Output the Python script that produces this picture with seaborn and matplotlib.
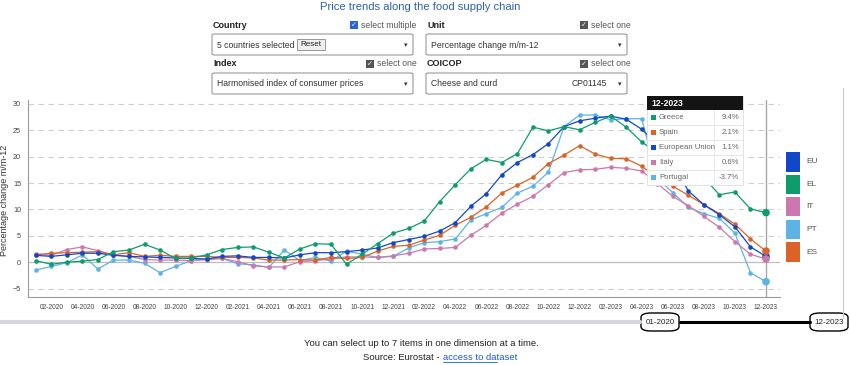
import numpy as np
import pandas as pd
import matplotlib
matplotlib.use('Agg')
import matplotlib.pyplot as plt
import seaborn as sns
from matplotlib.patches import Rectangle, FancyBboxPatch

# ---- data (percentage change m/m-12, cheese and curd, 01-2020 .. 12-2023)
months = pd.date_range('2020-01-01', periods=48, freq='MS').strftime('%m-%Y').tolist()

eu = [1.3, 1.1, 1.4, 1.7, 1.7, 1.3, 1.1, 1.0, 0.9, 0.8, 0.7, 0.6,
      1.1, 1.2, 0.9, 0.9, 0.8, 1.4, 1.8, 1.8, 2.0, 2.3, 2.7, 3.7,
      4.3, 4.9, 5.9, 7.5, 10.6, 13.0, 16.6, 18.9, 20.4, 22.5, 25.7, 26.8,
      27.3, 27.7, 27.1, 25.2, 22.4, 18.8, 13.5, 10.9, 9.0, 6.7, 2.9, 1.1]
el = [0.3, -0.4, 0.0, 0.2, 0.5, 2.0, 2.3, 3.4, 2.3, 0.7, 0.8, 1.4,
      2.4, 2.8, 2.9, 1.9, 0.8, 2.5, 3.5, 3.4, -0.4, 1.5, 3.5, 5.5,
      6.4, 7.8, 11.5, 14.7, 17.7, 19.5, 18.9, 20.6, 25.6, 24.9, 25.7, 25.1,
      26.5, 27.7, 25.6, 22.8, 20.7, 19.0, 17.5, 16.0, 12.8, 13.3, 10.1, 9.4]
it = [1.6, 1.3, 2.4, 2.9, 2.2, 1.4, 1.1, 0.5, 0.4, 0.4, 0.3, 0.5,
      0.7, 0.1, -0.7, -0.9, -0.9, 0.1, 0.3, 0.6, 1.0, 1.0, 0.9, 1.2,
      1.7, 2.5, 2.6, 2.8, 5.1, 7.0, 9.3, 11.0, 12.5, 14.7, 17.0, 17.5,
      17.6, 18.0, 17.8, 17.3, 14.9, 12.5, 10.7, 8.7, 6.6, 3.9, 1.5, 0.6]
pt = [-1.5, -0.8, -0.1, 1.4, -1.3, 0.4, 0.4, -0.2, -2.0, -0.8, 0.3, 0.6,
      0.7, -0.3, -0.5, -1.0, 2.3, 0.3, 0.9, 0.2, 2.1, 1.5, 0.9, 1.1,
      2.7, 3.7, 3.9, 4.4, 8.0, 9.2, 10.4, 13.1, 14.4, 17.1, 25.7, 27.9,
      27.9, 27.0, 27.2, 27.2, 15.9, 13.2, 10.4, 9.2, 8.3, 5.5, -2.0, -3.7]
es = [1.4, 1.7, 1.8, 1.9, 2.0, 1.4, 1.8, 1.1, 1.3, 1.1, 1.1, 1.1,
      0.9, 0.9, 0.8, 0.4, 0.4, 0.5, 0.4, 0.9, 0.7, 0.9, 2.1, 3.0,
      3.2, 4.2, 5.1, 7.0, 8.5, 10.5, 13.1, 14.6, 16.1, 18.7, 20.3, 22.1,
      20.5, 19.7, 19.6, 18.2, 16.0, 14.4, 12.7, 10.9, 9.2, 7.2, 4.4, 2.1]

geo_codes = ['EU', 'EL', 'IT', 'PT', 'ES']
geo_names = ['European Union', 'Greece', 'Italy', 'Portugal', 'Spain']
geo_colors = ['#1148c9', '#0d9c6c', '#cc78ae', '#5cb3e4', '#dc6327']

series = dict(zip(geo_codes, [eu, el, it, pt, es]))
palette = dict(zip(geo_codes, geo_colors))

df = pd.concat([pd.DataFrame({'idx': range(len(months)), 'month': months,
                              'geo': g, 'value': v}) for g, v in series.items()])

W, H = 850, 365
sns.set_style('white')
plt.rcParams['font.family'] = ['Liberation Sans', 'DejaVu Sans']

fig = plt.figure(figsize=(W / 100, H / 100), dpi=100)


def fx(px):
    return px / W


def fy(py):
    return 1 - py / H


# ---- header and selectors
fig.text(fx(420), fy(7), 'Price trends along the food supply chain', ha='center', va='center',
         fontsize=8.1, color='#2f62a5')


def selector(x0, y_lab, label, check_text, check_blue, box_text, right_text=None):
    fig.text(fx(x0 + 1), fy(y_lab), label, fontsize=6.5, fontweight='bold', va='center', color='#222')
    cx = x0 + 201 - 47 if check_text == 'select one' else x0 + 201 - 63
    fig.patches.append(Rectangle((fx(cx), fy(y_lab + 4)), 8 / W, 8 / H, transform=fig.transFigure,
                                 facecolor='#2b63d6' if check_blue else '#555', edgecolor='none'))
    fig.text(fx(cx + 1.3), fy(y_lab + 0.3), '✓', fontsize=5, color='white', va='center',
             family=['DejaVu Sans'])
    fig.text(fx(cx + 11), fy(y_lab), check_text, fontsize=6.2, va='center', color='#555')
    y_box = y_lab + 9
    fig.patches.append(FancyBboxPatch((fx(x0), fy(y_box + 21)), 201 / W, 21 / H,
                                      boxstyle='round,pad=0,rounding_size=0.003',
                                      transform=fig.transFigure, facecolor='white',
                                      edgecolor='#8a8a8a', linewidth=0.7))
    fig.text(fx(x0 + 5), fy(y_box + 11), box_text, fontsize=6.2, va='center', color='#333')
    if right_text:
        fig.text(fx(x0 + 181), fy(y_box + 11), right_text, fontsize=6.2, va='center',
                 ha='right', color='#333')
    fig.text(fx(x0 + 194), fy(y_box + 11), '▾', fontsize=5, va='center', ha='center', color='#333',
             family=['DejaVu Sans'])


selector(212, 25, 'Country', 'select multiple', True, '5 countries selected')
selector(212, 64, 'Index', 'select one', False, 'Harmonised index of consumer prices')
selector(426, 25, 'Unit', 'select one', False, 'Percentage change m/m-12')
selector(426, 64, 'COICOP', 'select one', False, 'Cheese and curd', 'CP01145')
# reset button
fig.patches.append(Rectangle((fx(297), fy(50)), 28 / W, 11 / H, transform=fig.transFigure,
                             facecolor='#efefef', edgecolor='#888', linewidth=0.6))
fig.text(fx(311), fy(44.5), 'Reset', fontsize=5.8, ha='center', va='center', color='#222')

# ---- main chart
ax = fig.add_axes([fx(28), fy(297), (780 - 28) / W, (297 - 100) / H])
sns.lineplot(data=df, x='idx', y='value', hue='geo', hue_order=['PT', 'IT', 'ES', 'EU', 'EL'],
             palette=palette, marker='o', markersize=3.3, markeredgewidth=0,
             linewidth=0.9, legend=False, ax=ax)
last = df[df['idx'] == len(months) - 1]
sns.scatterplot(data=last, x='idx', y='value', hue='geo', palette=palette, s=30,
                edgecolor='none', legend=False, ax=ax, zorder=5)

ax.set_xlim(-0.5, 47.9)
ax.set_ylim(-6.6, 30.75)
for yv in [-5, 5, 10, 15, 20, 25, 30]:
    ax.axhline(yv, color='#cfcfcf', linewidth=0.8, linestyle=(0, (5, 4)), zorder=0)
ax.axhline(0, color='#bdbdbd', linewidth=0.9, zorder=0)
ax.axvline(len(months) - 1, color='#a8a8a8', linewidth=1, zorder=1)

ax.set_yticks([-5, 0, 5, 10, 15, 20, 25, 30])
ax.set_xticks(range(len(months)))
ax.set_xticklabels([m if i % 2 == 1 else '' for i, m in enumerate(months)])
ax.tick_params(axis='x', labelsize=4.8, colors='#555', length=3, width=0.6, pad=2, labelcolor='#444')
ax.tick_params(axis='y', labelsize=5.2, colors='#555', length=3, width=0.6, pad=2, labelcolor='#444')
ax.set_xlabel('')
ax.set_ylabel('Percentage change m/m-12', fontsize=6.5, color='#333')
ax.yaxis.set_label_coords((9 - 28) / 752, 0.49)
for s in ['top', 'right']:
    ax.spines[s].set_visible(False)
for s in ['left', 'bottom']:
    ax.spines[s].set_color('#9a9a9a')
    ax.spines[s].set_linewidth(0.8)

# ---- tooltip for the last month
order = sorted(range(len(geo_codes)), key=lambda i: -series[geo_codes[i]][-1])
tx0, ty0, tw = 647, 96, 96
fig.patches.append(Rectangle((fx(tx0), fy(ty0 + 89)), tw / W, 89 / H, transform=fig.transFigure,
                             facecolor='white', edgecolor='#dddddd', linewidth=0.6, zorder=10))
fig.patches.append(Rectangle((fx(tx0), fy(ty0 + 14)), tw / W, 14 / H, transform=fig.transFigure,
                             facecolor='#141414', edgecolor='none', zorder=11))
fig.text(fx(tx0 + 4), fy(ty0 + 7), months[-1], fontsize=6.2, fontweight='bold', color='white',
         va='center', zorder=12)
for r, i in enumerate(order):
    yc = ty0 + 21.5 + r * 15
    fig.patches.append(Rectangle((fx(tx0 + 4), fy(yc + 2.5)), 5 / W, 5 / H, transform=fig.transFigure,
                                 facecolor=geo_colors[i], edgecolor='none', zorder=12))
    fig.text(fx(tx0 + 12), fy(yc), geo_names[i], fontsize=5.6, color='#666', va='center', zorder=12)
    fig.text(fx(tx0 + tw - 4), fy(yc), f"{series[geo_codes[i]][-1]:.1f}%", fontsize=5.6,
             color='#666', va='center', ha='right', zorder=12)
    if r > 0:
        fig.lines.append(plt.Line2D([fx(tx0), fx(tx0 + tw)], [fy(yc - 7.5), fy(yc - 7.5)],
                                    transform=fig.transFigure, color='#e2e2e2', linewidth=0.6, zorder=12))
fig.lines.append(plt.Line2D([fx(tx0 + 67), fx(tx0 + 67)], [fy(ty0 + 14), fy(ty0 + 89)],
                            transform=fig.transFigure, color='#e2e2e2', linewidth=0.6, zorder=12))

# ---- colour legend on the right
for k, g in enumerate(geo_codes):
    y_top = 152 + k * 22.5
    fig.patches.append(Rectangle((fx(786), fy(y_top + 19.5)), 14 / W, 19.5 / H,
                                 transform=fig.transFigure, facecolor=palette[g], edgecolor='none'))
    fig.text(fx(806), fy(y_top + 10), g, fontsize=6, color='#555', va='center')

# container border on the right
fig.lines.append(plt.Line2D([fx(843), fx(843)], [fy(88), fy(318)], transform=fig.transFigure,
                            color='#cccccc', linewidth=0.8))

# ---- time slider
fig.lines.append(plt.Line2D([0, fx(640)], [fy(322), fy(322)], transform=fig.transFigure,
                            color='#d6d6de', linewidth=3))
fig.lines.append(plt.Line2D([fx(680), fx(810)], [fy(322), fy(322)], transform=fig.transFigure,
                            color='black', linewidth=2.2))
for xc, lab in [(660, months[0]), (829, months[-1])]:
    fig.patches.append(FancyBboxPatch((fx(xc - 19), fy(331)), 38 / W, 18 / H,
                                      boxstyle='round,pad=0,rounding_size=0.012',
                                      transform=fig.transFigure, facecolor='white',
                                      edgecolor='black', linewidth=1.0))
    fig.text(fx(xc), fy(322), lab, fontsize=5.8, ha='center', va='center', color='#222')

# ---- footer
fig.text(fx(421), fy(343), 'You can select up to 7 items in one dimension at a time.',
         fontsize=6.8, ha='center', va='center', color='#222')
fig.text(fx(443), fy(358), 'access to dataset', fontsize=6.8, ha='left', va='center',
         color='#1a5ad8')
fig.text(fx(442), fy(358), 'Source: Eurostat - ', fontsize=6.8, ha='right', va='center', color='#222')
fig.lines.append(plt.Line2D([fx(443), fx(497)], [fy(362), fy(362)], transform=fig.transFigure,
                            color='#1a5ad8', linewidth=0.6))

fig.savefig('out.png', dpi=100)
